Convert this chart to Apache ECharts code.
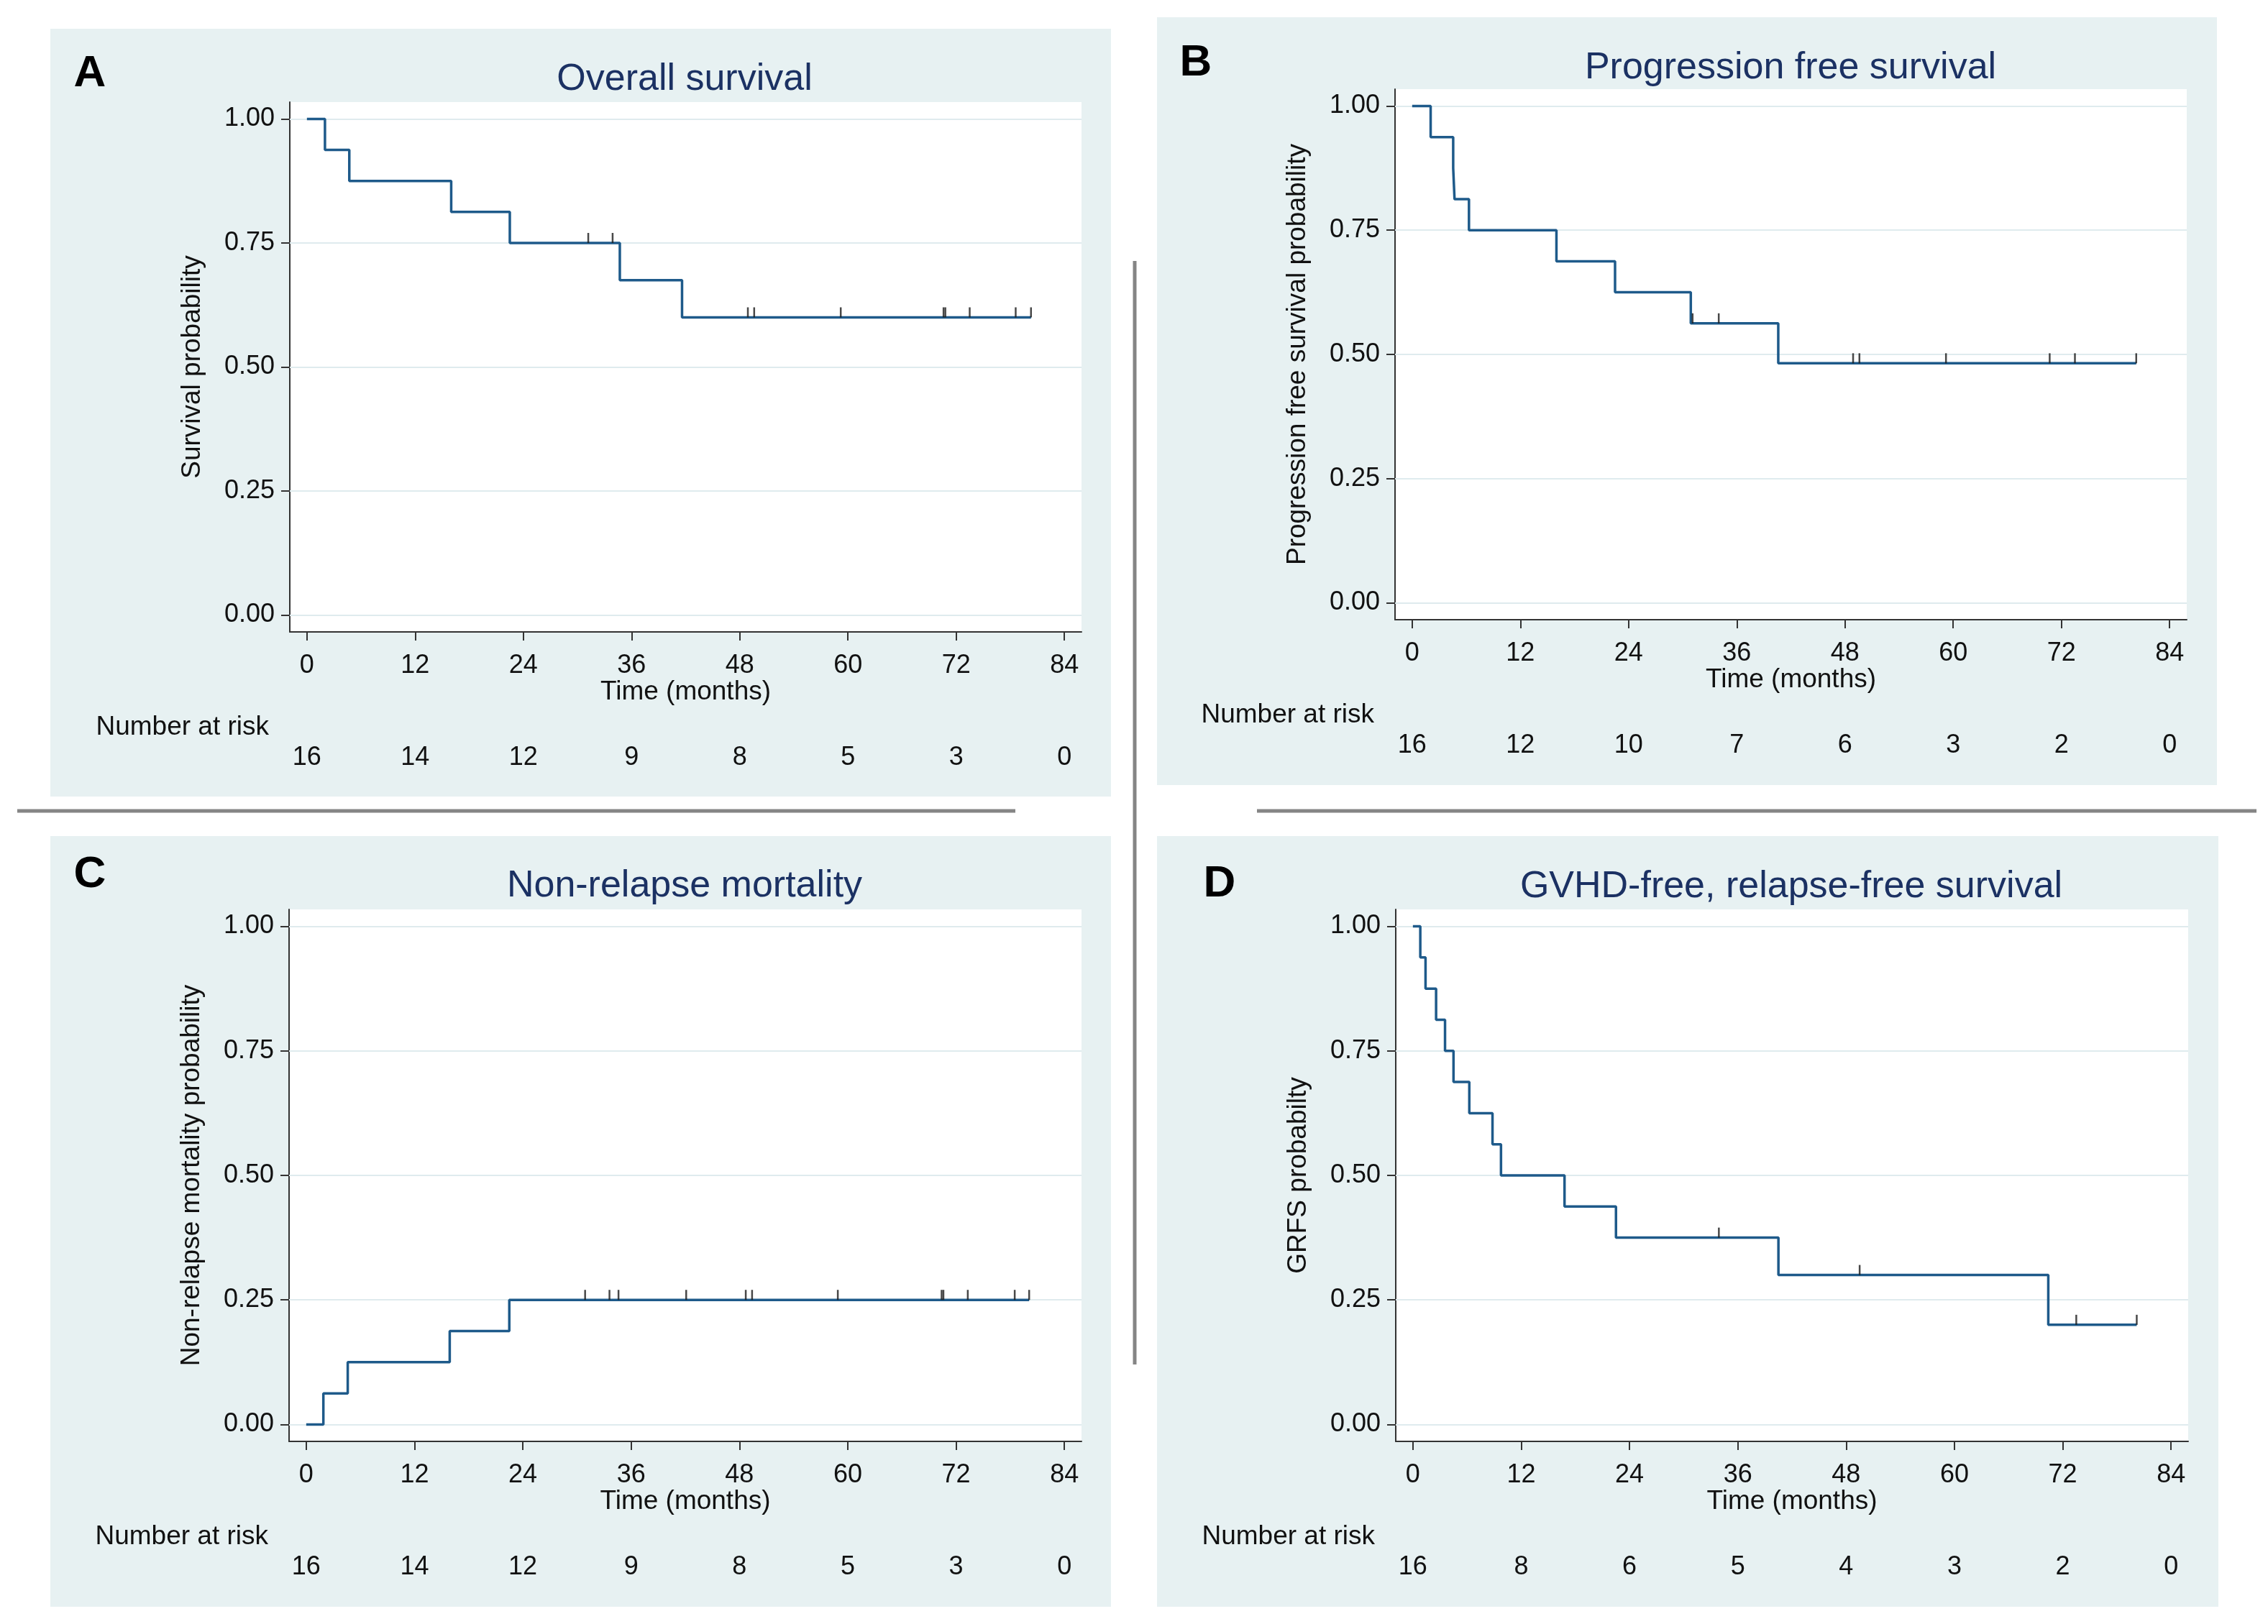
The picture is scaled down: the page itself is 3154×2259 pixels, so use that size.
<!DOCTYPE html>
<html>
<head>
<meta charset="utf-8">
<script src="https://cdn.jsdelivr.net/npm/echarts@6/dist/echarts.min.js"></script>
<style>
html,body{margin:0;padding:0;background:#ffffff;}
#c{width:3154px;height:2259px;}
</style>
</head>
<body>
<div id="c"></div>
<script>
// ---------------- DATA ----------------
const xTicks = [0, 12, 24, 36, 48, 60, 72, 84];
const yTicks = [0, 0.25, 0.5, 0.75, 1];

// A: Overall survival
const osTime   = [0, 2.0, 4.7, 16.0, 22.5, 34.7, 41.6, 80.3];
const osProb   = [1, 0.9375, 0.875, 0.8125, 0.75, 0.675, 0.6, 0.6];
const osCensor = [31.2, 33.9, 48.9, 49.6, 59.2, 70.6, 70.8, 73.5, 78.6, 80.3];
const osAtRisk = [16, 14, 12, 9, 8, 5, 3, 0];

// B: Progression free survival
const pfsTime   = [0, 2.05, 4.55, 4.7, 6.3, 16.0, 22.5, 30.9, 40.6, 80.3];
const pfsProb   = [1, 0.9375, 0.875, 0.8125, 0.75, 0.6875, 0.625, 0.5625, 0.4821, 0.4821];
const pfsCensor = [31.1, 34.0, 48.9, 49.6, 59.2, 70.7, 73.5, 80.3];
const pfsAtRisk = [16, 12, 10, 7, 6, 3, 2, 0];

// C: Non-relapse mortality
const nrmTime   = [0, 1.9, 4.6, 15.9, 22.5, 80.1];
const nrmProb   = [0, 0.0625, 0.125, 0.1875, 0.25, 0.25];
const nrmCensor = [30.9, 33.6, 34.6, 42.1, 48.7, 49.4, 58.9, 70.4, 70.6, 73.3, 78.5, 80.1];
const nrmAtRisk = [16, 14, 12, 9, 8, 5, 3, 0];

// D: GVHD-free, relapse-free survival
const grfsTime   = [0, 0.82, 1.4, 2.57, 3.56, 4.5, 6.25, 8.82, 9.76, 16.8, 22.5, 40.5, 70.4, 80.2];
const grfsProb   = [1, 0.9375, 0.875, 0.8125, 0.75, 0.6875, 0.625, 0.5625, 0.5, 0.4375, 0.375, 0.3, 0.2, 0.2];
const grfsCensor = [33.9, 49.5, 73.5, 80.2];
const grfsAtRisk = [16, 8, 6, 5, 4, 3, 2, 0];

const panelLetters = ['A', 'B', 'C', 'D'];
const panelTitles = ['Overall survival', 'Progression free survival', 'Non-relapse mortality', 'GVHD-free, relapse-free survival'];
const yNames = ['Survival probability', 'Progression free survival probability', 'Non-relapse mortality probability', 'GRFS probabilty'];
const xName = 'Time (months)';
const riskLabel = 'Number at risk';

// ---------------- LAYOUT / STYLE ----------------
const FONT = '"Liberation Sans", Arial, sans-serif';
const BG = '#e7f1f2';
const GRIDLINE = '#dfebee';
const AXIS = '#333333';
const CURVE = '#1e5a8a';
const TITLE = '#1b3163';

const layouts = [
  {grid: {left: 403, top: 142, width: 1101, height: 737}, bg: [70, 40, 1475, 1068], letter: [125, 103], title: [952, 111]},
  {grid: {left: 1940, top: 124, width: 1101, height: 738}, bg: [1609, 24, 1474, 1068], letter: [1663, 88], title: [2490, 95]},
  {grid: {left: 402, top: 1265, width: 1102, height: 740}, bg: [70, 1163, 1475, 1072], letter: [125, 1217], title: [952, 1233]},
  {grid: {left: 1941, top: 1265, width: 1102, height: 740}, bg: [1609, 1163, 1476, 1072], letter: [1696, 1230], title: [2491, 1234]}
];

const curves = [
  {time: osTime, prob: osProb, censor: osCensor, risk: osAtRisk},
  {time: pfsTime, prob: pfsProb, censor: pfsCensor, risk: pfsAtRisk},
  {time: nrmTime, prob: nrmProb, censor: nrmCensor, risk: nrmAtRisk},
  {time: grfsTime, prob: grfsProb, censor: grfsCensor, risk: grfsAtRisk}
];

function levelAt(times, probs, t) {
  let v = probs[0];
  for (let i = 0; i < times.length; i++) { if (times[i] <= t) v = probs[i]; }
  return v;
}

const grids = [], xAxes = [], yAxes = [], series = [], graphics = [];

layouts.forEach((L, i) => {
  const c = curves[i];
  grids.push(Object.assign({show: true, backgroundColor: '#ffffff', borderWidth: 0, containLabel: false, outerBoundsMode: 'none'}, L.grid));

  xAxes.push({
    gridIndex: i, type: 'value', position: 'bottom', min: -1.9, max: 85.9,
    axisLine: {show: true, onZero: false, lineStyle: {color: AXIS, width: 2}},
    axisTick: {show: true, customValues: xTicks, length: 12, lineStyle: {color: AXIS, width: 2}},
    axisLabel: {customValues: xTicks, fontSize: 36, color: '#111', fontFamily: FONT, margin: 29},
    splitLine: {show: false},
    name: xName, nameLocation: 'middle', nameGap: 65, nameMoveOverlap: false,
    nameTextStyle: {fontSize: 37, color: '#111', fontFamily: FONT}
  });
  xAxes.push({
    gridIndex: i, type: 'value', position: 'bottom', offset: 133, min: -1.9, max: 85.9,
    axisLine: {show: false, onZero: false},
    axisTick: {show: false},
    axisLabel: {customValues: xTicks, fontSize: 36, color: '#111', fontFamily: FONT, margin: 24,
      formatter: (v) => { const k = xTicks.indexOf(Math.round(v)); return k >= 0 ? String(c.risk[k]) : ''; }},
    splitLine: {show: false},
    name: riskLabel, nameLocation: 'start', nameGap: 29, nameMoveOverlap: false,
    nameTextStyle: {fontSize: 37, color: '#111', fontFamily: FONT}
  });
  yAxes.push({
    gridIndex: i, type: 'value', min: -0.034, max: 1.034,
    axisLine: {show: true, onZero: false, lineStyle: {color: AXIS, width: 2}},
    axisTick: {show: true, customValues: yTicks, length: 12, lineStyle: {color: AXIS, width: 2}},
    axisLabel: {customValues: yTicks, fontSize: 36, color: '#111', fontFamily: FONT, margin: 21,
      formatter: (v) => Number(v).toFixed(2)},
    splitLine: {show: false},
    name: yNames[i], nameLocation: 'middle', nameGap: 117, nameMoveOverlap: false,
    nameTextStyle: {fontSize: 37, color: '#111', fontFamily: FONT}
  });

  series.push({
    type: 'line', xAxisIndex: 2 * i, yAxisIndex: i, step: 'end', showSymbol: false, silent: true,
    data: c.time.map((t, k) => [t, c.prob[k]]),
    lineStyle: {color: CURVE, width: 3.5}, z: 3,
    markLine: {
      silent: true, symbol: ['none', 'none'], z: 1, animation: false,
      label: {show: false},
      lineStyle: {color: GRIDLINE, width: 2, type: 'solid'},
      emphasis: {disabled: true},
      data: yTicks.map(v => ({yAxis: v}))
    }
  });
  series.push({
    type: 'scatter', xAxisIndex: 2 * i, yAxisIndex: i, silent: true,
    symbol: 'rect', symbolSize: [2.5, 14], symbolOffset: [0, -7],
    itemStyle: {color: '#1a1a1a'}, z: 4,
    data: c.censor.map(t => [t, levelAt(c.time, c.prob, t)])
  });

  graphics.push({type: 'rect', z: -100, shape: {x: L.bg[0], y: L.bg[1], width: L.bg[2], height: L.bg[3]}, style: {fill: BG}});
  graphics.push({type: 'text', z: 10, x: L.letter[0], y: L.letter[1],
    style: {text: panelLetters[i], font: 'bold 62px ' + FONT, fill: '#000', align: 'center', verticalAlign: 'middle'}});
  graphics.push({type: 'text', z: 10, x: L.title[0], y: L.title[1],
    style: {text: panelTitles[i], font: '52px ' + FONT, fill: TITLE, align: 'center', verticalAlign: 'middle'}});
});

// separators
graphics.push({type: 'line', z: -50, shape: {x1: 24, y1: 1128, x2: 1412, y2: 1128}, style: {stroke: '#858585', lineWidth: 5}});
graphics.push({type: 'line', z: -50, shape: {x1: 1748, y1: 1128, x2: 3138, y2: 1128}, style: {stroke: '#858585', lineWidth: 5}});
graphics.push({type: 'line', z: -50, shape: {x1: 1578, y1: 363, x2: 1578, y2: 1898}, style: {stroke: '#858585', lineWidth: 5}});

const chart = echarts.init(document.getElementById('c'), null, {renderer: 'canvas', width: 3154, height: 2259});
chart.setOption({
  animation: false,
  backgroundColor: '#ffffff',
  grid: grids,
  xAxis: xAxes,
  yAxis: yAxes,
  series: series,
  graphic: {elements: graphics}
});
</script>
</body>
</html>
